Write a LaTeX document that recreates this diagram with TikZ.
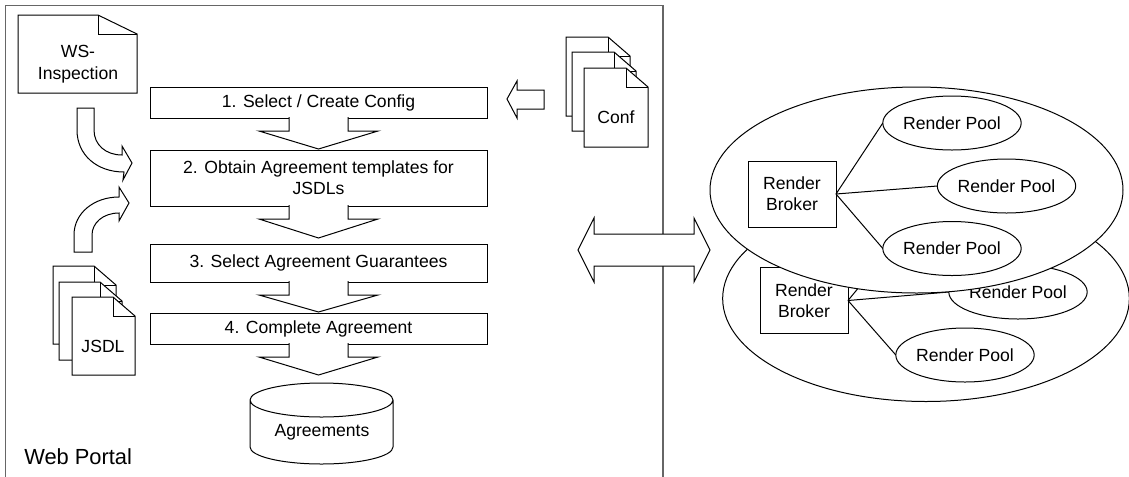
\documentclass[tikz,border=0pt]{standalone}
\usepackage{fontspec}
\setmainfont{Liberation Sans}
\usetikzlibrary{calc}
\usetikzlibrary{positioning}
\usetikzlibrary{shapes.geometric}
\def\labelfont{\fontsize{13.2}{16}\selectfont}
\tikzset{
thinline/.style={line width=0.75pt},
stepbox/.style={draw,thinline,fill=white,align=center,outer sep=0pt,inner sep=0pt,
	minimum width=252.75pt,minimum height=#1,font=\labelfont},
blockarrow/.style={draw,thinline,fill=white,line join=miter},
docpage/.style={draw,thinline,fill=white,line join=miter},
doclabel/.style={align=center,font=\labelfont},
cluster/.style 2 args={draw,thinline,fill=white,ellipse,outer sep=0pt,inner sep=0pt,
	minimum width=#1,minimum height=#2},
broker/.style={draw,thinline,fill=white,align=center,outer sep=0pt,inner sep=0pt,
	minimum width=66pt,minimum height=49.5pt,font=\labelfont},
pool/.style={draw,thinline,fill=white,ellipse,outer sep=0pt,inner sep=0pt,
	minimum width=87pt,minimum height=40.5pt,font=\labelfont},
link/.style={thinline},
}
% x, y, flat top, fold width, height below the fold
\newcommand{\foldpage}[5]{
	\draw[docpage] (#1,#2) -- ++(#3,0) -- ++(#4,19) -- ++(0,#5) -- ++({-(#3+#4)},0) -- cycle;
	\draw[docpage,fill=none] (#1,#2) ++(#3,0) -- ++(0,19) -- ++(#4,0);
}
\begin{document}
\begin{tikzpicture}[x=0.75pt,y=-0.75pt]
\useasboundingbox (0,0) rectangle (1129,476);

%The portal frame, open at the bottom
\draw[line width=1.1pt,black!60] (5.5,480) -- (5.5,5.5) -- (663,5.5) -- (663,480);
\node[anchor=west,inner sep=0pt,font=\fontsize{16.4}{20}\selectfont] (portal) at (24,457) {Web Portal};

%Place the steps
\node[stepbox=23.25pt] (step1) at (318.5,102.5) {1. Select / Create Config};
\node[stepbox=42pt, below=24pt of step1] (step2) {2. Obtain Agreement templates for\\JSDLs};
\node[stepbox=28.5pt, below=28.5pt of step2] (step3) {3. Select Agreement Guarantees};
\node[stepbox=23.25pt, below=23.25pt of step3] (step4) {4. Complete Agreement};

\foreach \s/\l in {step1/31, step2/32, step3/30, step4/31} {
	\coordinate (tip) at ($(\s.south)+(0,\l)$);
	\draw[blockarrow] ($(\s.south)+(-29.5,-1)$) -- ++(0,14) -- ++(-30,0) -- (tip)
		-- ($(\s.south)+(59.5,13)$) -- ++(-30,0) -- ++(0,-14);
}

%The agreements store
\draw[blockarrow] (250,400) arc[start angle=180,end angle=-180,x radius=71.5,y radius=17]
	-- (250,447) arc[start angle=180,end angle=0,x radius=71.5,y radius=17] -- (393,400);
\node[doclabel] (agreements) at (322,432.5) {Agreements};

%The documents
\foldpage{18}{15}{80}{39}{59}
\node[doclabel] (wsi) at (78,64) {WS-\\[0.8pt]Inspection};
\foreach \x/\y in {566/37, 572/52, 584/68} {
	\foldpage{\x}{\y}{42}{22}{60}
}
\node[doclabel] (conf) at (616,117) {Conf};
\foreach \x/\y in {53/266, 59/282, 72/297} {
	\foldpage{\x}{\y}{41}{22}{59}
}
\node[doclabel] (jsdl) at (103,346) {JSDL};

%Block arrows
\draw[blockarrow] (77,108) -- (94,108) -- (94,130) .. controls (94,145) and (106,155) .. (122,155)
	-- (122,146) -- (132,163) -- (123,180) -- (124,172) .. controls (97,172) and (77,155) .. (77,130) -- cycle;
\draw[blockarrow] (74,252) -- (74,235) .. controls (74,213) and (94,197) .. (119,197)
	-- (119,187) -- (129,203) -- (119,221) -- (119,213) .. controls (103,213) and (92,223) .. (92,235)
	-- (92,252) -- cycle;
\draw[blockarrow] (544,90) -- (517,90) -- (517,81) -- (507,99) -- (517,118) -- (517,109) -- (544,109) -- cycle;
\draw[blockarrow] (578,250) -- (594,218) -- (594,234) -- (694,234) -- (694,218) -- (710,250)
	-- (694,282) -- (694,266) -- (594,266) -- (594,282) -- cycle;

%The lower cluster
\node[cluster={305pt}{154.5pt}] (lower) at (926,298.5) {};
\node[broker] (rb2) at (804,300.5) {Render\\Broker};
\node[pool] (p22) at (1018,292) {Render Pool};
\node[pool] (p23) at (965,355) {Render Pool};
\coordinate (p21) at (907,229);
\foreach \p in {p21, p22.west, p23.west} {
	\draw[link] (rb2.east) -- (\p);
}

%The upper cluster
\node[cluster={309.75pt}{154.5pt}] (upper) at (916.5,190) {};
\node[broker] (rb1) at (792,194) {Render\\Broker};
\node[pool] (p11) at (952,123) {Render Pool};
\node[pool] (p12) at (1006.5,186) {Render Pool};
\node[pool] (p13) at (952,248.5) {Render Pool};
\foreach \p in {p11, p12, p13} {
	\draw[link] (rb1.east) -- (\p.west);
}
\end{tikzpicture}
\end{document}
